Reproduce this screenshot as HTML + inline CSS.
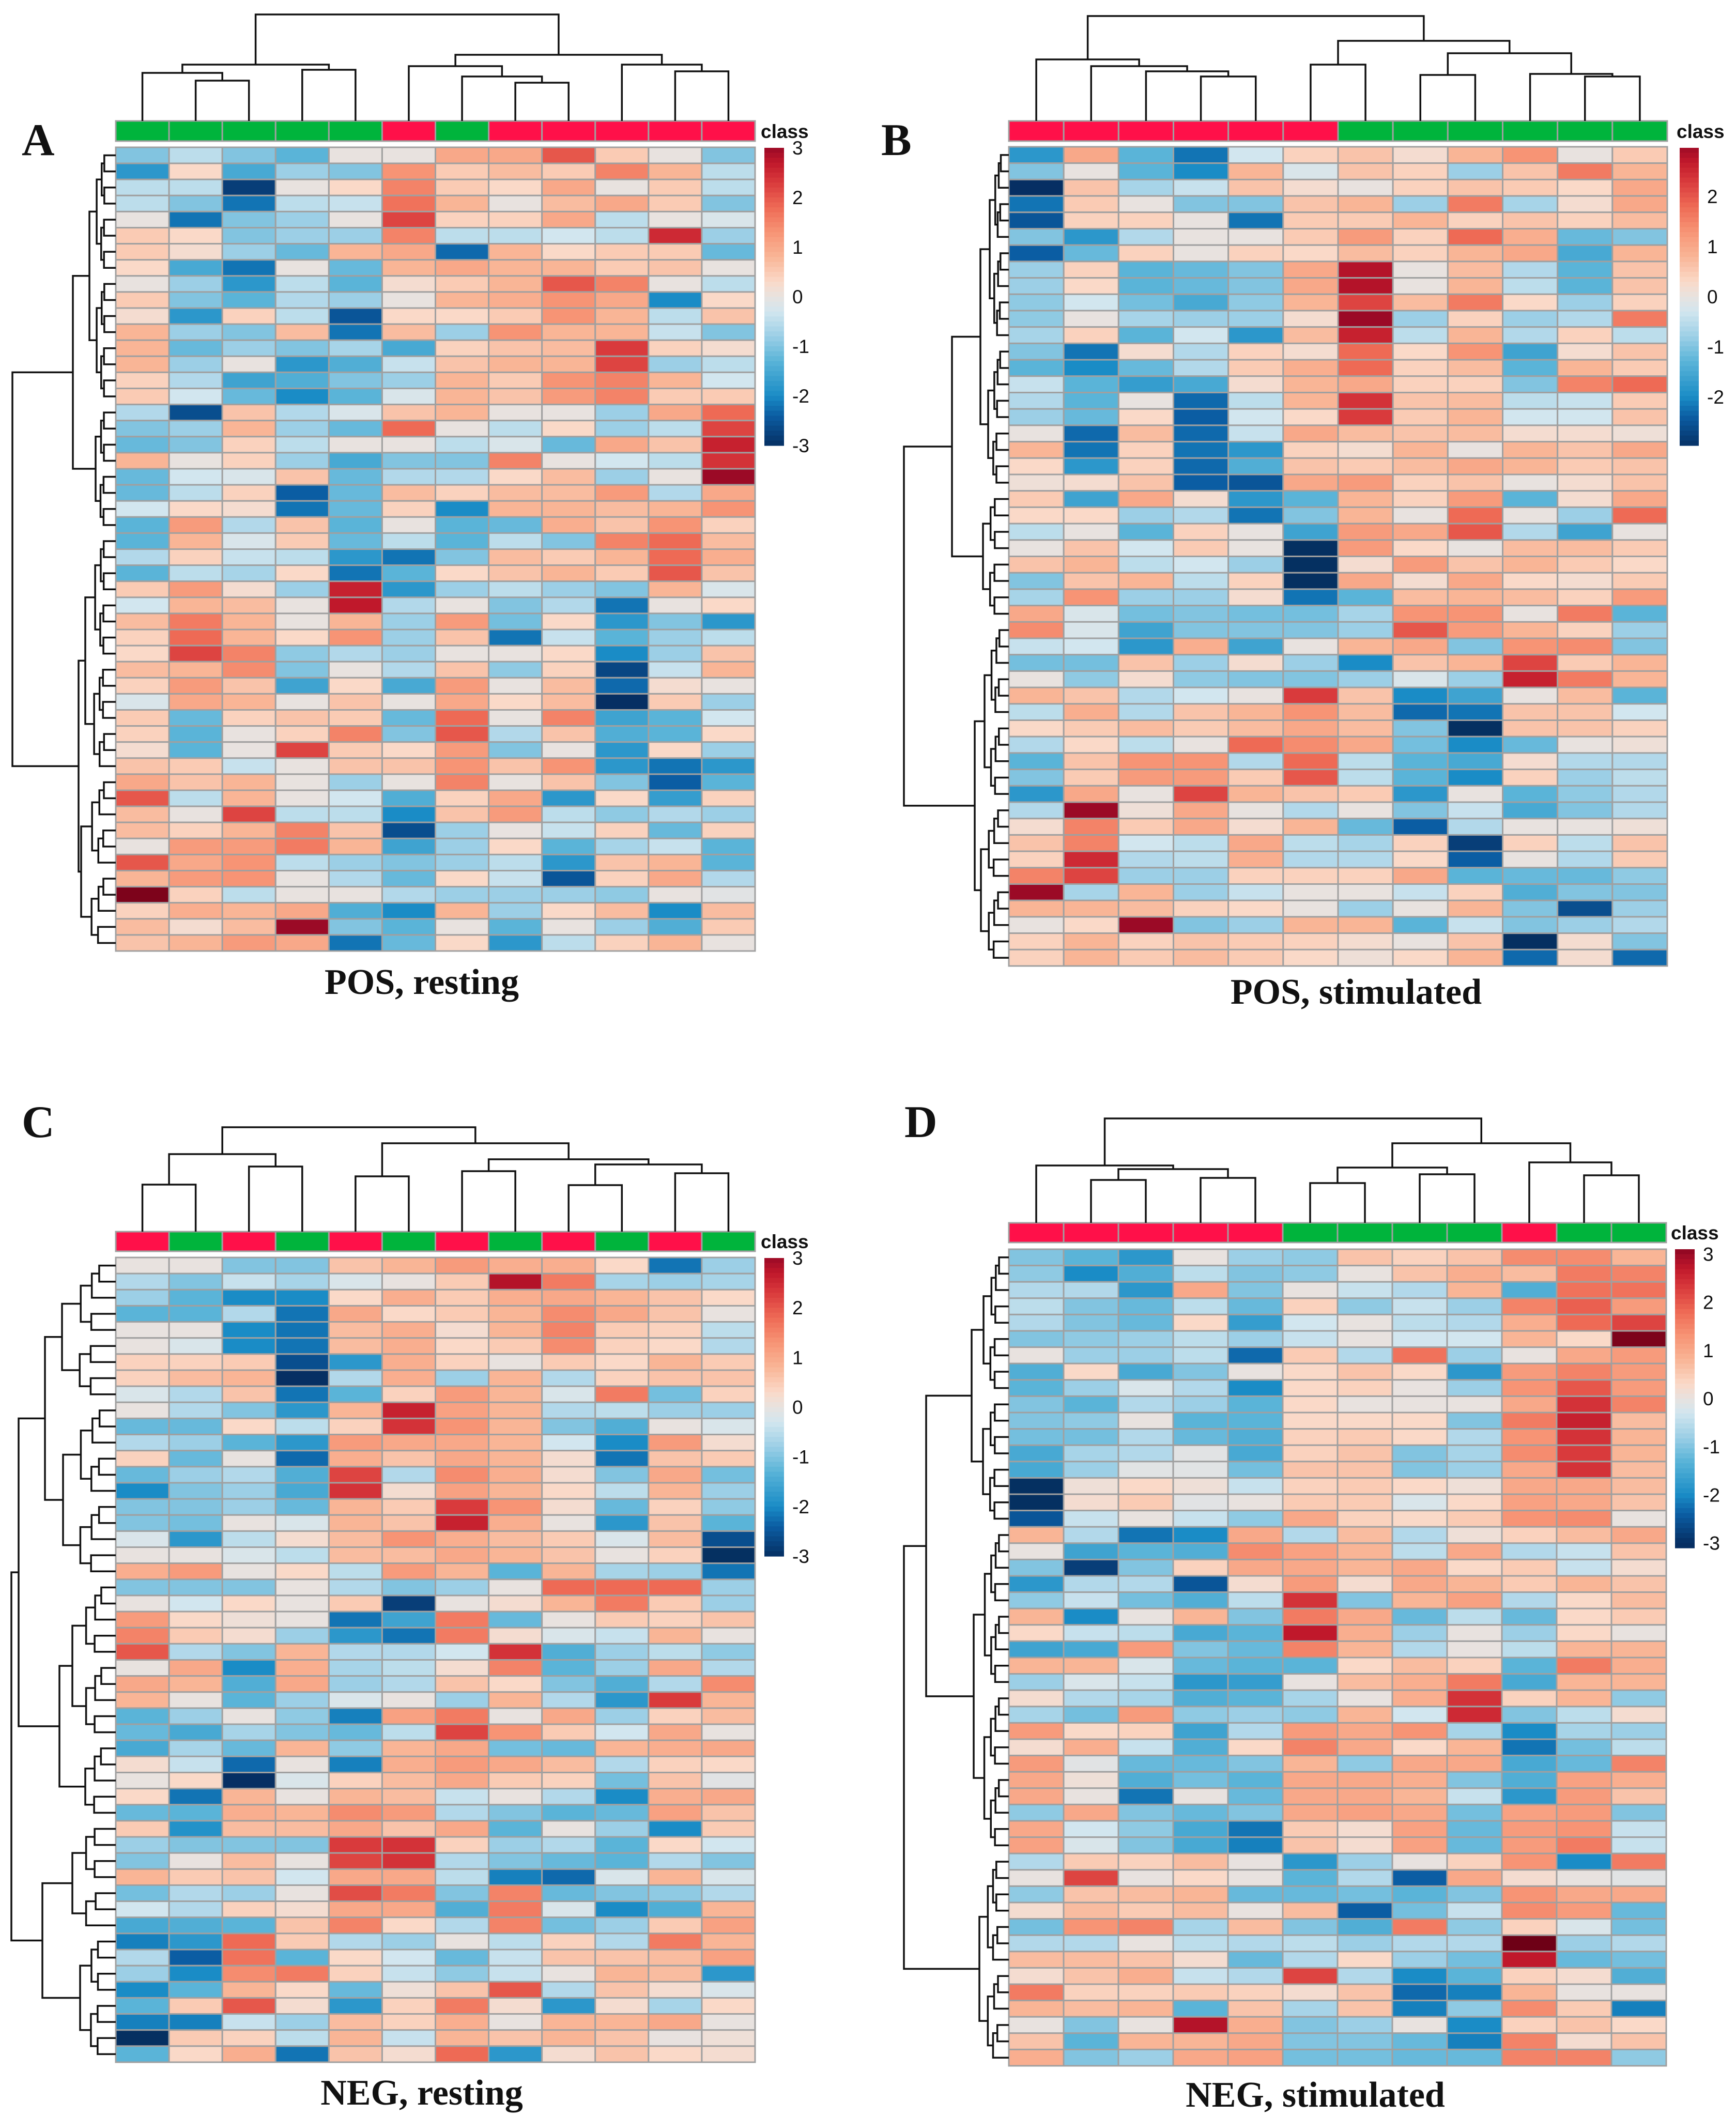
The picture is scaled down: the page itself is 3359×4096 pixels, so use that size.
<!DOCTYPE html>
<html><head><meta charset="utf-8"><title>Heatmaps</title>
<style>html,body{margin:0;padding:0;background:#fff}svg{display:block}</style></head>
<body>
<svg id="fig" xmlns="http://www.w3.org/2000/svg" width="3359" height="4096" viewBox="0 0 3359 4096"></svg>
<script>
// ---- data ----
const aClass=['g','g','g','g','g','r','g','r','r','r','r','r'];
const bClass=['r','r','r','r','r','r','g','g','g','g','g','g'];
const cClass=['r','g','r','g','r','g','r','g','r','g','r','g'];
const dClass=['r','r','r','r','r','g','g','g','g','r','g','g'];
const aTicks=[3,2,1,0,-1,-2,-3];
const bTicks=[2,1,0,-1,-2];
const cTicks=[3,2,1,0,-1,-2,-3];
const dTicks=[3,2,1,0,-1,-2,-3];
const aValues=[
[-1,-0.5,-1,-1.3,0,0,1,1,2,0.5,0,-1],
[-1.8,0.3,-1.5,-0.8,-1,1.3,0.5,0.7,0.5,1.5,0.8,-0.5],
[-0.5,-0.5,-2.8,0,0.3,1.5,0.5,0.3,1,0,0.5,-0.5],
[-0.5,-1,-2.2,-0.5,-0.4,1.7,0.8,0,0.7,1,0.5,-1],
[0,-2.2,-1,-0.8,0,2.2,0.4,0.4,1,-0.5,0,-0.2],
[0.5,0.3,-1,-0.8,-0.8,1.5,-0.5,-0.5,-0.3,-0.5,2.5,-0.8],
[0.5,0.2,-0.8,-1.2,0.8,1,-2.3,0.8,0.3,0.5,0.5,-1.2],
[0.3,-1.5,-2.2,0,-1.2,0.8,1,0.8,0.8,0.5,0.6,0],
[0,-0.8,-1.8,-0.5,-1.3,0.2,0.5,0.8,2,1.5,0,-0.5],
[0.5,-1,-1.3,-0.6,-0.8,0,0.8,0.9,1.3,1,-2,0.3],
[0.2,-1.8,0.4,-0.5,-2.5,0.3,0.3,0.5,1.3,0.8,-0.5,0.6],
[0.8,-0.8,-1,0.7,-2.2,0.7,-0.8,1.3,0.8,0.8,-0.4,-1],
[0.8,-1.2,-0.8,-1,-0.7,-1.5,0.4,0.6,0.7,2.3,0.4,0.2],
[0.8,-0.8,0,-1.8,-1.4,-0.4,0.6,0.8,0.8,2.2,-0.8,-0.5],
[0.4,-0.6,-1.6,-1.4,-1,-0.8,0.8,0.5,1.3,1.5,0.8,-0.3],
[0.5,-0.3,-1.2,-2,-1.3,-0.2,0.8,0.6,1.2,1.5,0.5,0.5],
[-0.6,-2.6,0.6,-0.6,-0.2,0.6,0.8,0,0,-0.8,1,1.8],
[-1,-0.8,0.8,-0.8,-1.2,1.8,0,-0.5,0.3,-0.8,-0.5,2.2],
[-1.2,-1,0.4,-0.5,0,0,-0.5,-0.2,-1.2,1,0.6,2.6],
[0.8,0,0.4,-0.8,-1.5,-1,-1,1.5,0,-0.3,-0.5,2.4],
[-1.2,-0.3,-0.2,0.6,-1.2,-0.6,-0.6,0.3,0.7,-0.8,0,3],
[-1.2,-0.5,0.4,-2.4,-1.2,0.7,0.4,0.7,0.7,1.2,-0.6,1],
[-0.3,0.3,0.2,-2.2,-1.2,0.4,-2,0.8,0.8,0.7,0.8,1.3],
[-1.3,1.2,-0.6,0.6,-1.3,0,-1.3,-1.2,0.9,0.6,1.3,0.4],
[-1.3,0.8,-0.2,0.5,-1.2,-0.5,-1.3,-0.5,-1,1.5,1.8,0.7],
[-0.6,0.4,-0.4,-0.5,-1.8,-2.2,-1,0.7,0.5,0.8,1.8,0.9],
[-1.3,-0.5,-0.7,0.3,-2.2,-1.3,0.3,0.6,0.8,0.5,2,0.6],
[0.5,1.2,0.2,-0.8,2.6,-1.8,-0.8,-0.5,-0.8,-1,0.8,-0.2],
[-0.3,0.8,0.7,0,2.7,-0.6,0,-1,-0.6,-2.2,0,0.3],
[0.7,1.6,0.8,0,0.8,-0.8,1.2,-1.1,0.3,-1.8,-1,-1.8],
[0.4,1.8,0.8,0.3,1.3,-0.8,0.6,-2.2,-0.4,-1.3,-0.8,-0.5],
[0.3,2.2,1.5,-0.9,-0.6,-0.8,0,0,0.3,-2,-0.8,0.6],
[0.7,0.8,1.4,-1,0,-0.6,0.6,-0.9,0.4,-2.7,-0.4,0.8],
[0.4,1.2,0.6,-1.6,0.3,-1.5,1.2,0,0.7,-2.3,0.2,0],
[-0.2,1,0.8,0,0.6,0,1,0.3,0.7,-3,0.5,-0.8],
[0.5,-1.2,0.4,0.6,0.5,-1.2,1.8,0,1.5,-1.6,-1.3,-0.3],
[0.4,-1.3,0,0.4,1.5,-1,2,-0.6,0.6,-1.4,-1.3,0.3],
[0.2,-1.3,0,2.2,0.5,0.3,1.2,-1,0,-1.8,0.3,-0.8],
[0.6,0.5,-0.4,0,0.6,0.6,1.3,0.6,1.3,-1.8,-2.2,-1.8],
[1,0.6,0.8,0,-0.8,0,1.5,0,0.6,-1,-2.4,-1.3],
[2,-0.5,0.8,0,-0.3,-1.4,0.4,1,-1.8,0.3,-1.7,0.4],
[0.7,0,2.2,-0.5,-0.5,-2,0.6,1.2,-0.5,-0.9,-0.6,-0.8],
[0.7,0.4,0.8,1.5,0.6,-2.6,-0.8,0,-0.4,0.4,-1.2,0.4],
[0,1.2,1.2,1.6,0.8,-1.6,-0.8,0.3,-1.3,-0.7,-0.4,-1.3],
[2,1,1.3,-0.5,-0.8,-1,-0.8,-0.5,-1.8,0.6,0.8,-1.3],
[0.8,1.2,1.3,0,-0.6,-1.2,0.3,-0.4,-2.5,0.4,1,-0.6],
[3.2,0.4,-0.5,0,0,-0.6,-0.8,-0.8,-0.8,-0.9,0,-0.1],
[0.4,0.9,0.8,1,-1.4,-2,0.8,-0.8,0.3,0.7,-2,0.7],
[0.7,0.2,0.7,3,-1,-1.3,0,-1.3,0,-0.8,-1.4,0.5],
[0.6,0.8,1.2,1,-2.2,-1.2,0.3,-1.8,-0.5,0.4,0.8,0]];
const bValues=[
[-1.8,1,-1.3,-2.2,-0.3,0.4,0.6,0.2,0.8,1.3,0,0.5],
[-1,0,-1.3,-2,0.8,-0.2,0.6,0.4,-0.8,0.6,1.6,0.8],
[-3,0.6,-0.7,-0.4,0.6,0.2,0,0.4,0.6,0.5,0.3,1],
[-2.2,0.5,0,-1,-1,0.6,0.8,-0.8,1.6,-0.7,0.2,1],
[-2.5,0.4,0.4,0,-2.2,0.5,0.5,0.8,0.4,0.6,0.4,0.7],
[-1,-1.8,-0.6,0,0,0.5,1.2,0.4,1.8,0.9,-1.2,-1],
[-2.4,-1.2,0.4,0,0.4,0.3,0.7,0.4,0.8,1,-1.5,0.8],
[-0.8,0.4,-1.3,-1.2,-1,1,2.8,0,0.7,-0.6,-1.3,0.6],
[-0.8,0.3,-1.3,-1.2,-1,1,2.8,0,0.8,-0.5,-1.3,0.6],
[-0.9,-0.3,-1.1,-1.5,-0.9,0.8,2.2,0.7,1.6,0.3,-0.8,0.4],
[-0.9,0,-0.7,-0.8,-0.8,0.2,3,-0.8,0.4,-0.8,-0.6,1.6],
[-0.7,0.4,-1.3,-0.3,-1.8,0.7,2.6,-0.5,0.8,-0.6,0.4,-0.5],
[-1,-2.2,0.2,-0.6,0.4,0.2,1.8,0.3,1.3,-1.6,0.2,0.6],
[-1.3,-2,-1.2,-0.6,0.5,0.9,1.8,0.4,0.7,-1.3,0.8,0.5],
[-0.4,-1.3,-1.7,-1.5,0.2,0.8,1,0.4,0.4,-1,1.5,1.8],
[-0.6,-1.3,0,-2.3,-0.5,0.8,2.4,0.6,0.7,-0.5,-0.4,0.5],
[-0.8,-1.2,0.3,-2.4,-0.3,0.3,2.3,0.5,0.8,-0.3,-0.3,0.6],
[0,-2.3,0.7,-2.3,-0.4,1,0.7,0.6,0.7,0.2,0.2,0.1],
[0.8,-2.2,0.4,-2.2,-1.8,0.4,0.2,0.8,0,0.8,0.6,1],
[0.3,-1.8,0.4,-2.3,-1.4,0.6,0.5,0.7,1,0.8,0.5,0.6],
[0.1,0.2,0.6,-2.4,-2.5,1,1.2,0.4,0.6,0,0.2,0.6],
[0.5,-1.6,1,0.2,-1.8,-1.3,0.8,0.4,1.2,-1.3,0.2,1],
[0.3,0.3,-0.8,-0.6,-2.2,-1,0.8,0,1.8,0,-0.8,1.8],
[-0.5,0,-1.3,0.4,0,-1.6,1.2,1,2,-0.6,-1.6,0],
[0,0.6,-0.3,0.5,0,-3.2,1.2,0.3,0,0.7,0.7,0.5],
[0.6,0.8,-0.5,-0.3,-0.8,-3.2,0.2,1.2,0.6,0.8,0.5,0.3],
[-1,0.6,0.8,-0.5,0.4,-3.2,1,0.2,1,0.3,0.2,0.5],
[-0.7,1.3,-0.8,-0.8,0.2,-2.2,-1.3,0.7,0.8,0.7,0.4,1.2],
[1,-0.2,-1.1,-1,-1.1,-1.1,-0.7,1.3,1.3,0,1.6,-1.3],
[1.4,-0.2,-1.6,-1,-1,-1,-0.8,2,1.2,0.8,0.4,-0.8],
[-0.4,-0.3,-1.8,0.9,-1.6,0,0.8,1,-1,1.3,1.4,-1],
[-1.1,-1.1,0.6,-0.8,0.2,-0.8,-2,0.6,0.8,2.2,0.5,0.8],
[0,-0.9,0.2,-0.9,-1,-1,-0.8,-0.2,-0.8,2.6,1.6,0.8],
[0.8,0.6,-0.6,-0.3,0,2.3,0.6,-2,-1.6,0,0.7,-1.3],
[-0.5,0.9,-0.6,0.6,0.8,1.3,0.7,-2.3,-2.2,0.6,0.6,-0.3],
[0.3,0.5,0.7,0.5,0.7,1,0.7,-1,-3.2,0.6,0.6,0.4],
[-0.6,0.3,-0.5,0,1.8,1.4,1,-1.1,-2,-1.2,0,0.1],
[-1.3,0.6,1.3,1.3,-0.6,1.8,-0.5,-1.3,-1.5,0.2,-0.6,-0.6],
[-1,0.5,1.2,1.2,0.5,2,-0.5,-1.3,-2,0.4,-0.8,-0.5],
[-1.8,1,0,2.2,0.8,0.6,0.5,-1.8,0,-1.3,-0.9,-0.6],
[-0.6,3,0.1,1,0,-0.6,0,-1,-0.4,-1.5,-1,-0.6],
[0.2,1.5,0.5,1,0.2,0.8,-1.2,-2.4,-0.6,0,0,0.1],
[0.6,1.5,-0.3,-0.5,1,-0.5,-0.7,0.4,-2.8,0.4,-0.5,0.6],
[0.4,2.5,-0.6,-0.5,0.9,-0.6,-0.6,0.3,-2.4,0,-0.6,0.5],
[1.5,2.2,-0.8,-0.8,0.4,0.4,0.4,1,-1.3,-1.2,-1.2,-0.9],
[3,-0.7,0.8,-0.8,-0.4,0,0,-0.4,0.4,-1.4,-1,-1],
[0.8,0.8,0.7,0.4,0.3,0,-0.8,0,0.8,-1,-2.6,-0.8],
[0,0.3,3,-1,-0.8,0.8,0.8,-1.3,-0.4,-1,-0.8,-0.6],
[0.4,0.8,0.4,0.6,0.5,0.4,0.2,0,0.6,-3.3,0.2,-1],
[0.4,0.8,0.5,0.7,0.5,0.3,0.1,0.3,0.8,-2.3,0.2,-2.3]];
const cValues=[
[0,0,-1,-1,0.6,0.8,1.2,0.9,0.9,0.3,-2.2,-0.8],
[-0.6,-1,-0.4,-0.7,-0.2,0,0.5,2.8,1.6,-0.7,-0.8,-0.7],
[-0.8,-1.3,-2,-2,0.3,0.9,0.5,0.9,1,0.8,0.6,0.3],
[-1.3,-1.3,-0.6,-2.2,1,0.3,0.5,0.8,1.4,1,0.6,0],
[0,0,-2,-2.2,0.7,0.9,0.2,0.8,1.5,0.5,0.4,-0.5],
[0,-0.2,-2,-2.2,0.7,0.9,0.3,0.5,1.4,0.4,0.3,-0.6],
[0.4,0.4,0.5,-2.6,-1.8,0.9,0.4,0,0.5,0.3,0.8,0.5],
[0.4,0.7,0.8,-3,-0.6,0.9,-0.8,0.8,-0.6,0.4,0.6,0.6],
[-0.2,-0.6,0.6,-2.2,-1.3,0.4,1.2,0.8,-0.2,1.6,-1.1,0.4],
[0,-0.6,-1,-1.8,0.8,2.6,1.1,0.8,-0.6,-0.5,-0.8,-0.8],
[-1.2,-1.2,0.3,-0.5,0.4,2.4,1.3,0.8,-1,-1.4,0,-0.2],
[-0.6,-0.8,-1.3,-1.8,1.2,1,1,0.8,-0.3,-2,1.2,0.2],
[0.4,-1.2,0,-2.3,0.9,0.6,1,0.8,0.2,-2.2,0.6,0.5],
[-1.2,-0.8,-0.6,-1.4,2.2,-0.6,1.4,0.9,0.2,-1,1,-1.1],
[-2,-1,-0.8,-1.5,2.4,0.2,1.1,0.8,0.3,-0.5,0.8,-0.8],
[-1,-1,-0.8,-1.2,0.8,0.5,2.3,1.3,0.2,-1.2,0.4,-0.9],
[-1,-1.1,0,-0.2,0.8,0.6,2.6,0.9,0,-1.8,0.6,-1.3],
[-0.2,-1.8,-0.5,0.2,0.7,1.3,0.9,0.7,0.5,-0.2,0.7,-2.6],
[0,0,-0.2,-0.5,0.7,0.7,1,0.8,0.6,0,0.4,-3.2],
[0.9,1.2,0,0.3,-0.5,1.2,0.8,-1.3,0.8,-0.7,-0.8,-2.2],
[-1,-1,-1,0,-0.6,-1,-0.8,0,1.8,1.8,1.8,-0.8],
[0,-0.3,0.3,0,0.5,-2.8,0,0.2,0.8,1.6,0.5,-0.8],
[1.2,0.3,0.1,0,-2.2,-1.6,1.6,-1.2,0,0.5,0.4,0.6],
[1.5,0.5,0.2,-0.8,-1.8,-2.2,1.6,0.2,-0.2,-0.4,0.8,0],
[2,-0.6,-1,0.8,-0.6,-0.6,-0.3,2.4,-1.4,-0.8,-0.5,-0.9],
[0,1,-2,0.9,-0.7,-0.5,0.2,1.5,-1.3,-0.8,1,-0.6],
[1,0.8,-1.4,1,-0.8,-0.6,0.6,0.3,-1,-1.4,-0.6,1.4],
[0.8,0,-1.3,-0.8,-0.2,0,-0.8,0.8,-0.6,-1.8,2.3,0.8],
[-1.3,-0.8,0,-0.9,-2.1,1.1,1.6,0,1,-0.8,0.4,0.7],
[-1.2,-1.5,-0.7,-1,-1.2,-0.5,2.2,1.3,0.5,-0.3,1,0],
[-1.5,-0.7,-1.2,0.8,-0.9,0.8,1,-1.1,-1.2,0.8,0.9,1],
[0.2,-0.4,-2.3,0,-2.1,0.9,1.2,1,0.7,-0.6,0.4,0.3],
[0,0.3,-3,-0.2,0.4,0.7,1,0.5,0.4,-1.1,0.6,-0.1],
[0.3,-2.2,0.8,0,0.8,0.7,-0.4,0,-0.6,-2,0.9,1],
[-1.2,-1.3,0.9,0.8,1.4,1.2,-0.6,-1,-1.3,-1.2,1.1,0.6],
[0.5,-1.9,0.7,0.7,1,0.6,1,-1.3,0,-0.8,-2,0.5],
[-0.8,-1,-1,-1,2.3,2.4,0.4,-0.8,-0.6,-1.3,0.3,-0.3],
[-1,0,0.7,0,2.2,2.4,-0.6,-1,-1.2,-1.3,-0.6,-1],
[0.8,0.5,0.6,-0.3,1,1,-0.5,-2.1,-2.3,-0.2,0.8,-0.2],
[-1.1,-0.6,-0.8,0,2.1,1.6,-1,1.5,-1.2,-1,-0.9,-0.6],
[-0.3,-0.6,0.4,0.2,1,1,-1.4,1.6,-0.2,-2,-1.4,0.8],
[-1.5,-1.4,-1.3,0.6,1.5,0.3,-0.6,1.5,-1.1,-0.8,0.5,1.1],
[-2.1,-1.8,1.8,0.5,-0.6,-0.8,0,-0.5,0.4,-0.6,1.6,0.8],
[-0.6,-2.4,1.7,-1.3,0.3,-0.3,-1.2,-0.4,0.6,0.6,0.7,1.1],
[-0.8,-2,1.4,1.6,0.4,-0.4,-0.9,-0.4,0,0.8,0.7,-1.8],
[-2,-1.3,0.8,0.3,-1.2,0.1,0.6,2,-0.6,0.6,0.2,-0.2],
[-1.3,0.5,2,0.2,-1.8,0.4,1.6,0.2,-1.8,0.2,-0.7,0.3],
[-2.1,-2.1,-0.4,-0.8,0.7,0.4,0.9,0,0.8,0.8,1,0],
[-3.2,0.5,0.4,-0.5,0.8,-0.4,0.8,0.6,0.8,0.6,0,0.1],
[-1.3,0.3,0.9,-2.2,0.6,0.2,1.8,-1.8,0.2,0.6,0.3,0.2]];
const dValues=[
[-1,-1.3,-1.8,0,-0.8,-0.9,0.6,0.4,0.6,1.4,1.4,0.8],
[-0.9,-2,-1.4,-0.5,-1,-0.9,0,0.6,0.9,0.7,1.6,1.5],
[-0.6,-0.6,-1.8,1,-1,0,-0.4,-0.6,0.8,-1.4,1.7,1.7],
[-0.5,-1,-1.2,-0.5,-1.2,0.4,-0.9,-0.4,-0.8,1.5,1.9,1.2],
[-0.6,-1,-1.2,0.3,-1.7,-0.3,0,-0.5,-0.6,0.9,1.8,2.2],
[-1,-0.9,-0.8,-0.5,-0.8,-0.4,0,-0.3,-0.3,0.8,0.3,3.2],
[0,-0.8,-0.8,-0.5,-2.3,0.5,-0.6,1.7,-0.8,0,1,1.2],
[-1.4,0.3,-1.5,-1,0,0.3,0.6,0.3,-1.8,1.2,1.5,1.2],
[-1.3,-0.8,-0.2,-0.6,-2,0.3,0.4,0,-0.8,1.3,2,1.2],
[-1,-1.3,-0.6,-0.8,-1.3,0.3,0,0,0,1,2.4,1.5],
[-1,-0.9,0,-1.3,-1.3,0.3,0.3,0.3,-1,1.6,2.6,0.7],
[-1.1,-1.1,-0.6,-1.2,-1.4,0.4,0.5,0.3,-0.6,1.3,2.4,0.8],
[-1.5,-0.7,-0.6,-0.1,-1.5,0.4,0.6,-1,-0.7,1.4,2.3,0.8],
[-1.5,-0.8,-0.1,-0.1,-1.1,0.6,0.6,-1,-0.8,1,2.4,0.7],
[-3.2,0.1,0.3,0.1,-0.4,0.4,0.5,0.3,0.1,1,1,0.7],
[-3.2,0.2,0.5,-0.1,0,0.5,0.5,-0.2,0.3,1.1,1,0.6],
[-2.5,-0.4,0,-0.4,-0.9,1,0.4,0.3,0.5,1.3,1.4,0],
[0.8,-0.6,-2.2,-2,1,-0.6,0.7,-0.6,0.1,0.4,0.7,1],
[0,-1.6,-1.3,-1.4,1.4,1.1,0.8,-0.5,1,-0.6,-0.4,0.6],
[-1,-2.8,-1,0.4,1,1,0.8,1,0.3,0.5,-0.4,0.2],
[-1.8,-0.6,-0.6,-2.5,0.2,1.2,0.2,1,0.8,0.5,0.8,0.6],
[-0.9,-0.4,-1.1,-1.4,-0.5,2.4,-1,0.8,1.1,-0.6,0.3,0.7],
[0.8,-2,0,0.8,-1,1.6,1,-1.2,-0.5,-1.2,0.3,0.5],
[0.3,-0.4,-0.5,-1.5,-1.3,2.7,0.9,-0.8,0,-0.8,0.3,0],
[-1.6,-1.5,1.2,-1,-1.2,1.5,0.8,-0.6,0,-0.5,0.8,0.8],
[0.8,0.8,-0.2,-1.2,-1.3,-1.3,0.3,0.7,0.4,-1.3,1.6,0.9],
[-0.8,-0.2,-0.4,-1.8,-1.7,0,0.7,0.9,1.6,-1.5,0.8,0.8],
[0.2,-0.6,-0.7,-1.4,-1.3,-0.7,0,0.9,2.4,0.4,0.8,-0.9],
[-0.7,-1.1,1.2,-0.9,-0.8,-0.9,0.8,-0.3,2.5,-1,-0.5,0.2],
[1.2,0.3,0.4,-1.6,-0.6,1.2,1,1.3,-0.7,-2,-0.7,-0.8],
[0.2,0.9,-0.4,-1.4,0.3,1.5,1,0.3,0.8,-2.2,-1.1,-0.5],
[1.2,-0.1,-1.2,-1.2,-1,0.8,-0.9,1,1,-1.5,-1.2,1.5],
[1,0.1,-1.4,-1.1,-1.3,1,1,0.9,-1,-1.4,1.1,0.9],
[1,0,-2.2,0,-1.2,1,1,0.8,-0.4,-1.8,1.2,0.6],
[-0.9,1,-1,-1.2,-1,1,1.1,1,-1.1,1.1,1.2,-1],
[1,-0.3,-0.9,-1.5,-2.2,0.5,0.2,1.1,-1.2,1.2,1.3,-0.4],
[1.1,-0.2,-1,-1.5,-2.1,0.6,0.2,1.1,-1.2,1.2,1.6,-0.4],
[-0.6,0.5,0.4,0.7,0,-1.8,-0.8,0,0.4,1.3,-2,1.6],
[0,2.2,0,0.3,0,-1.3,-0.6,-2.4,1,0.2,0,-0.1],
[-0.9,0.6,0.7,0.8,-1.2,-1.2,-1.1,-1.3,-1,1.3,1,1],
[0.2,0.7,0.5,0.7,0,0.7,-2.4,-1.1,-0.4,1.4,1.2,-1.2],
[-1.1,1.3,1.5,-0.7,0.7,-1,-1.4,1.6,-0.9,0.4,-0.2,-1.1],
[-0.6,-0.6,0,-0.5,-0.6,-0.5,-0.8,-0.6,-0.6,3.3,-0.8,-0.6],
[0.7,0.7,0.6,0.2,-1.2,-0.6,0.3,-0.8,-1.1,2.7,-1.2,-1.1],
[0.2,0.6,0.9,-0.4,-0.6,2.2,-0.6,-2,-1.3,0.4,0.2,-1.4],
[1.6,0.4,0.4,0.5,0.4,0.2,0.6,-2.3,-2.1,0.8,0,0],
[0.8,0.7,0.8,-1.3,0.6,-0.7,0.6,-2.1,-0.9,1.4,0.5,-2.1],
[0,-1,0,2.8,0.9,-1,-0.8,0,-2,0.4,0.6,0.3],
[0.6,-1.3,0.8,0.8,1,-1,-1,-1.2,-2.1,1.5,0.2,0.6],
[0.9,-1,-0.8,1,1.1,-1.1,-1.1,-1.2,-1.2,1.5,1.5,-0.9]];

// ---- rendering ----
const NS='http://www.w3.org/2000/svg';
const svg=document.getElementById('fig');
function mk(tag,attrs,parent){const e=document.createElementNS(NS,tag);for(const k in attrs)e.setAttribute(k,attrs[k]);(parent||svg).appendChild(e);return e;}
const stops=[[-3.2,'#053061'],[-3,'#062f63'],[-2.4,'#0b5da3'],[-2,'#1a8cc6'],[-1.3,'#5ab4d8'],[-0.8,'#9ccfe6'],[-0.3,'#d2e6ef'],[0,'#e8e2df'],[0.3,'#fad9c8'],[0.8,'#f9b596'],[1.3,'#f79475'],[1.8,'#ee6a55'],[2.3,'#d93a3c'],[2.7,'#c0182b'],[3.0,'#9b0a26'],[3.3,'#6e0016']];
function hex(c){return [parseInt(c.slice(1,3),16),parseInt(c.slice(3,5),16),parseInt(c.slice(5,7),16)];}
function color(v){
  if(v<=stops[0][0])return stops[0][1];
  for(let i=1;i<stops.length;i++){
    if(v<=stops[i][0]){const t=(v-stops[i-1][0])/(stops[i][0]-stops[i-1][0]);const a=hex(stops[i-1][1]),b=hex(stops[i][1]);
      return 'rgb('+a.map((x,j)=>Math.round(x+(b[j]-x)*t)).join(',')+')';}
  }
  return stops[stops.length-1][1];
}
const CLS={r:'#ff1049',g:'#00b43c'};

function panel(p){
  const g=mk('g',{});
  
  
  const nR=p.values.length,nC=p.values[0].length;
  const cw=(p.x1-p.x0)/nC, rh=(p.y1-p.y0)/nR;
  const colX=i=>p.x0+cw*(i+0.5), rowY=j=>p.y0+rh*(j+0.5);
  p.cls.forEach((c,i)=>{
    const r=mk('rect',{x:p.x0+cw*i,y:p.by0,width:cw,height:p.by1-p.by0,fill:CLS[c],stroke:'#a0a0a0','stroke-width':3},g);
    
    
  });
  p.values.forEach((row,j)=>row.forEach((v,i)=>{
    const r=mk('rect',{x:p.x0+cw*i,y:p.y0+rh*j,width:cw,height:rh,fill:color(v),stroke:'#a0a0a0','stroke-width':3},g);
    
    
  }));
  const cd=mk('g',{fill:'none',stroke:'#111','stroke-width':3.5},g);
  
  
  function colNode(n){
    if(typeof n==='number')return [colX(n),p.by0];
    const a=colNode(n[1]),b=colNode(n[2]),y=n[0];
    mk('path',{d:`M${a[0]},${a[1]}V${y}H${b[0]}V${b[1]}`},cd);
    return [(a[0]+b[0])/2,y];
  }
  colNode(p.ctree);
  const rd=mk('g',{fill:'none',stroke:'#111','stroke-width':3.5},g);
  
  
  function rowNode(n){
    if(typeof n==='number')return [p.x0,rowY(n)];
    if(!Array.isArray(n)){
      if(n.a===n.b)return [p.x0,rowY(n.a)];
      const m=Math.floor((n.a+n.b)/2), nx=n.x+(p.x0-14-n.x)*0.38;
      const L=rowNode({a:n.a,b:m,x:nx+ (n.b-n.a)%3}),R=rowNode({a:m+1,b:n.b,x:nx});
      mk('path',{d:`M${L[0]},${L[1]}H${n.x}V${R[1]}H${R[0]}`},rd);
      return [n.x,(L[1]+R[1])/2];
    }
    const L=rowNode(n[1]),R=rowNode(n[2]),x=n[0];
    mk('path',{d:`M${L[0]},${L[1]}H${x}V${R[1]}H${R[0]}`},rd);
    return [x,(L[1]+R[1])/2];
  }
  rowNode(p.rtree);
  const lg=mk('g',{},g);
  
  
  const steps=60,lh=(p.ly1-p.ly0)/steps;
  for(let k=0;k<steps;k++){
    const v=p.lmax-(2*p.lmax)*(k+0.5)/steps;
    mk('rect',{x:p.lx0,y:p.ly0+lh*k,width:p.lx1-p.lx0,height:lh+0.6,fill:color(v)},lg);
  }
  p.ticks.forEach(t=>{
    const y=p.ly0+(p.lmax-t)/(2*p.lmax)*(p.ly1-p.ly0);
    const tx=mk('text',{x:p.lx1+16,y:y+13,'font-family':'Liberation Sans, Arial, sans-serif','font-size':37,fill:'#111'},lg);
    tx.textContent=String(t);
    
    
  });
  const cl=mk('text',{x:p.clx,y:p.cly,'font-family':'Liberation Sans, Arial, sans-serif','font-size':37,'font-weight':'bold',fill:'#111'},g);
  cl.textContent='class';
  
  
  const lt=mk('text',{x:p.letX,y:p.letY,'font-family':'Liberation Serif, serif','font-size':88,'font-weight':'bold',fill:'#111'},g);
  lt.textContent=p.id;
  
  
  const tt=mk('text',{x:p.tX,y:p.tY,'text-anchor':'middle','font-family':'Liberation Serif, serif','font-size':70,'font-weight':'bold',fill:'#111'},g);
  tt.textContent=p.title;
  
  
}

panel({id:'A',title:'POS, resting',values:aValues,cls:aClass,ticks:aTicks,lmax:3,
  x0:224,x1:1461,y0:285,y1:1840,by0:234,by1:273,
  lx0:1479,lx1:1517,ly0:286,ly1:862,clx:1472,cly:267,letX:42,letY:300,tX:816,tY:1923,
  ctree:[28,[125,[141,0,[156,1,2]],[135,3,4]],[106,[128,5,[148,6,[160,7,8]]],[125,9,[138,10,11]]]],
  rtree:[24,[141,{a:0,b:15,x:173},{a:16,b:23,x:185}],[152,{a:24,b:38,x:165},{a:39,b:49,x:157}]]});
panel({id:'B',title:'POS, stimulated',values:bValues,cls:bClass,ticks:bTicks,lmax:2.97,
  x0:1952,x1:3226,y0:284,y1:1869,by0:234,by1:273,
  lx0:3250,lx1:3287,ly0:286,ly1:862,clx:3244,cly:267,letX:1705,letY:300,tX:2624,tY:1942,
  ctree:[31,[115,0,[128,1,[138,2,[148,3,4]]]],[79,[125,5,6],[103,[145,7,8],[143,9,[148,10,11]]]]],
  rtree:[1749,[1842,[1897,{a:0,b:11,x:1915},{a:12,b:20,x:1912}],{a:21,b:28,x:1902}],[1886,{a:29,b:39,x:1905},{a:40,b:49,x:1898}]]});
panel({id:'C',title:'NEG, resting',values:cValues,cls:cClass,ticks:cTicks,lmax:3,
  x0:224,x1:1461,y0:2433,y1:3990,by0:2383,by1:2421,
  lx0:1479,lx1:1517,ly0:2434,ly1:3011,clx:1472,cly:2415,letX:42,letY:2200,tX:816,tY:4072,
  ctree:[2181,[2233,[2292,0,1],[2257,2,3]],[2212,[2276,4,5],[2243,[2266,6,7],[2253,[2293,8,9],[2270,10,11]]]]],
  rtree:[22,[36,[87,{a:0,b:8,x:120},{a:9,b:19,x:122}],[115,{a:20,b:29,x:140},{a:30,b:34,x:165}]],[82,{a:35,b:41,x:140},{a:42,b:49,x:155}]]});
panel({id:'D',title:'NEG, stimulated',values:dValues,cls:dClass,ticks:dTicks,lmax:3.1,
  x0:1952,x1:3224,y0:2417,y1:3997,by0:2366,by1:2404,
  lx0:3241,lx1:3279,ly0:2417,ly1:2995,clx:3233,cly:2398,letX:1750,letY:2200,tX:2545,tY:4076,
  ctree:[2164,[2255,0,[2262,[2283,1,2],[2279,3,4]]],[2212,[2259,[2289,5,6],[2272,7,8]],[2249,9,[2274,10,11]]]],
  rtree:[1749,[1792,{a:0,b:16,x:1880},{a:17,b:36,x:1884}],{a:37,b:49,x:1895}]});
</script>
</body></html>
